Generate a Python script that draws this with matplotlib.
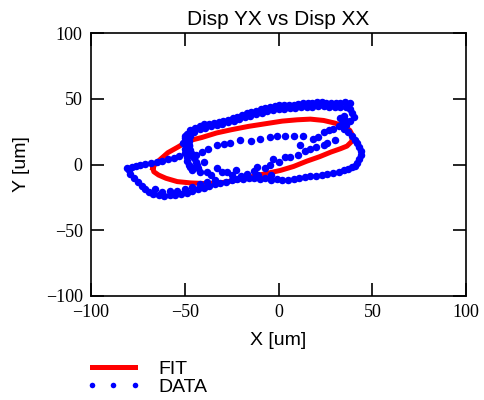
import matplotlib.pyplot as plt

# Fitted ellipse (um)
fit_x = [-67, -66, -63, -59, -54, -48, -41, -33, -25, -16, -7, 2, 10, 17, 24,
         30, 35, 38, 39.5, 39, 36.5, 33, 28, 22, 15, 8, 1, -7, -15, -23, -31,
         -39, -47, -54, -60, -64, -66.5, -67]
fit_y = [-3, 0, 4, 9, 13, 18, 20.5, 24, 26.5, 29, 31, 33, 34, 34.5, 33.5,
         31.5, 29, 26, 22, 17.5, 14, 12, 9.5, 6, 2.5, -1.5, -4.5, -7, -9.5,
         -12, -14, -14.5, -14, -13, -10.5, -8, -5.5, -3]

# Measured displacement samples (um), listed pass by pass
data_x = [
    # outer top, upper pass
    38, 35.5, 33, 30.5, 28, 25.5, 23, 20.5, 18, 15.5, 13, 10.5, 8, 5.5, 3,
    0.5, -2, -4.5, -7, -9.5, -12, -14.5, -17, -19.5, -22, -24.5, -27, -29.5,
    -32, -34.5, -37, -39.5, -42, -44.5, -47, -49, -50,
    # outer top, lower pass
    36, 33, 30, 27, 24, 21, 18, 15, 12, 9, 6, 3, 0, -3, -6, -9, -12, -15,
    -18, -21, -24, -27, -30, -33, -36, -39, -42, -45, -47, -48, -48,
    # right end
    38, 39, 40, 38, 36, 35, 37, 39, 41, 42, 43, 44, 44, 43, 42, 41,
    # outer bottom, right to left
    39, 37, 35, 32, 29, 26, 23, 20, 17, 14, 11, 8, 5, 2, -1, -4, -7, -10,
    -13, -16, -19, -22, -25, -28, -31, -34, -37, -40, -43, -46, -49, -52,
    -55, -58, -61, -64, -67, -69,
    # second bottom row on the left
    -66, -62, -58, -54, -50, -46, -42, -38, -34,
    # lower-left edge
    -71, -73, -75, -77, -79, -80, -81,
    # left top edge
    -78, -76, -74, -71, -68, -65, -62, -59, -56, -53,
    # left cluster
    -51, -50, -50, -49, -49, -48, -47, -46, -50, -49, -48, -47, -46, -45,
    -44, -44, -43,
    # inner upper row
    -44, -41, -37.5, -33, -29, -26, -20.5, -14.5, -10, -4.5, -1, 3.5, 8.5,
    13, 18.5, 21, 24, 27, 29, 32, 34, 36, 33, 35,
    # inner lower zigzag
    -43.5, -40, -42, -36, -33, -27.5, -22.5, -17, -11.5, -11, -4.5, -4, -3,
    3.5, 10.5, 17, 24, 11.5, -13, -7, 0, 6, 14, 20, 26, 30, -38, -30, -25,
    -20,
]
data_y = [
    # outer top, upper pass
    47, 47.5, 47, 46.5, 46.5, 47, 47.5, 47.5, 47, 46.5, 46.5, 46, 45.5, 45.5,
    45, 45, 44.5, 44, 43, 42, 41, 40, 39, 37.5, 36, 35, 34, 33, 32, 31.5, 31,
    30.5, 29.5, 28, 26, 23, 20,
    # outer top, lower pass
    44, 44, 43.5, 44, 44.5, 44.5, 44, 44, 43.5, 43, 43, 42.5, 42, 41.5, 40.5,
    39.5, 38.5, 37, 36, 34.5, 33, 32, 30.5, 30, 29, 28, 27, 25, 22, 18, 14,
    # right end
    42, 39, 36, 33, 30, 27, 25, 22, 19, 16, 13, 10, 7, 4, 1, -1,
    # outer bottom, right to left
    -2, -3.5, -4.5, -5.5, -6.5, -7.5, -8, -8.5, -9, -9.5, -10, -11, -12,
    -11.5, -11, -11.5, -10.5, -11, -10, -10.5, -11, -11, -12, -13, -14, -15,
    -16, -17.5, -19, -20.5, -21.5, -22.5, -23, -23.5, -24, -23.5, -22.5, -21,
    # second bottom row on the left
    -19, -21, -20.5, -20, -18.5, -17, -15, -13.5, -12,
    # lower-left edge
    -19, -16, -13, -10, -7, -4.5, -3,
    # left top edge
    -2, -1, -0.5, 0.5, 1.5, 2, 3, 4, 5, 6.5,
    # left cluster
    16, 12, 9, 6, 3, 0, -2, -4, 22, 18, 15, 11, 8, 5, 2, -1, -3,
    # inner upper row
    7, 9.5, 12, 14.5, 15.5, 16, 18.5, 17.5, 19.5, 21, 22, 22, 22, 22, 19.5,
    21, 24.5, 26, 27, 29.5, 31, 33, 35, 37,
    # inner lower zigzag
    -0.5, 2, -5.5, -8, -3, -5.5, -4.5, -7, -2, -8, -0.5, -8, 4.5, 5.5, 7, 12,
    14.5, 14.5, -5, -3, 2, 6, 10, 13, 16, 19, -6, -6, -8, -9,
]

plt.rcParams["font.family"] = ["Liberation Sans", "DejaVu Sans"]


def make_plot(out_path="out.png"):
    fig = plt.figure(figsize=(4.84, 4.0), dpi=100)
    ax = fig.add_axes([0.188, 0.26, 0.775, 0.6575])

    ax.plot(fit_x, fit_y, color="#ff0000", linewidth=3.6, label="FIT", zorder=2)
    ax.plot(data_x, data_y, linestyle="none", marker="o", markersize=5.4,
            color="#0000ff", markeredgewidth=0, label="DATA", zorder=3)

    ax.set_xlim(-100, 100)
    ax.set_ylim(-100, 100)
    ax.set_xticks([-100, -50, 0, 50, 100])
    ax.set_yticks([-100, -50, 0, 50, 100])
    ax.tick_params(direction="in", length=9.5, width=1.2, top=True, right=True,
                   pad=6, labelsize=13)
    for lbl in ax.get_xticklabels() + ax.get_yticklabels():
        lbl.set_fontfamily("Liberation Serif")
    for sp in ax.spines.values():
        sp.set_linewidth(1.2)

    ax.set_title("Disp YX vs Disp XX", fontsize=15, pad=6)
    ax.set_xlabel("X [um]", fontsize=14, labelpad=8)
    ax.set_ylabel("Y [um]", fontsize=14, labelpad=11)

    handles, labels = ax.get_legend_handles_labels()
    leg = fig.legend(handles, labels, loc="upper left",
                     bbox_to_anchor=(0.178, 0.1), frameon=False, fontsize=14,
                     handlelength=2.8, handletextpad=0.9, numpoints=3,
                     labelspacing=0.05, borderpad=0, borderaxespad=0)
    leg.legend_handles[1].set_markersize(4)

    fig.savefig(out_path, dpi=100)


if __name__ == "__main__":
    make_plot()
